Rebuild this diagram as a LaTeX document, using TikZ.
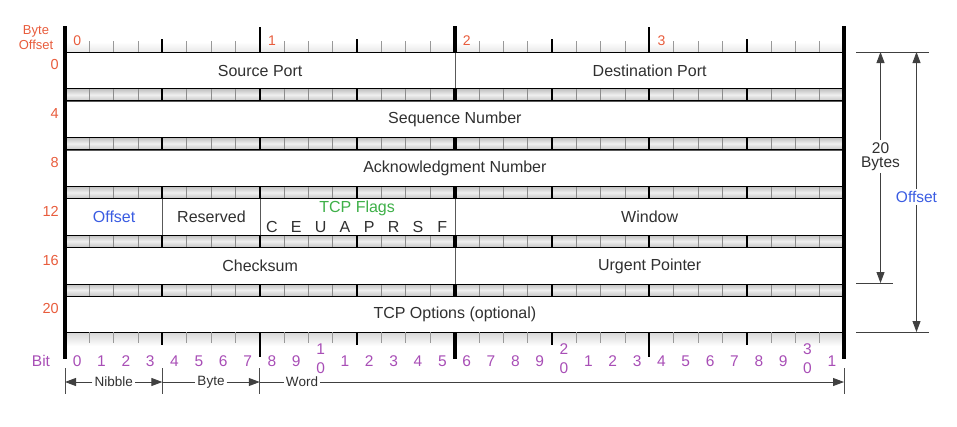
\documentclass[tikz,border=0pt]{standalone}
\usepackage{fontspec}
\setmainfont{Liberation Sans}
\usetikzlibrary{arrows.meta}
\definecolor{offred}{RGB}{232,92,60}
\definecolor{bitpurple}{RGB}{168,78,182}
\definecolor{flaggreen}{RGB}{62,176,72}
\definecolor{offblue}{RGB}{58,92,226}
\definecolor{txt}{RGB}{48,48,48}
\newcommand{\fs}[1]{\fontsize{#1}{#1}\selectfont}
\tikzset{
  field/.style={draw=black!65, line width=0.8pt, fill=white, inner sep=0pt,
    minimum height=36.8pt, anchor=north west, font=\fs{16}, text=txt},
  bitnum/.style={font=\fs{15.5}, text=bitpurple, inner sep=0pt, anchor=base},
  offnum/.style={font=\fs{14.5}, text=offred, inner sep=0pt, anchor=east},
  bytenum/.style={font=\fs{14}, text=offred, inner sep=0pt},
  minortick/.style={black!40, line width=0.7pt},
  nibtick/.style={black, line width=1.8pt},
  bytetick/.style={black, line width=2.3pt},
  midtick/.style={black, line width=4pt},
  edgetick/.style={black, line width=3.6pt},
  dimline/.style={black!75, line width=0.8pt},
  dimarrow/.style={black!75, line width=0.9pt, -{Triangle[length=11pt,width=8pt]}},
  dimlabel/.style={font=\fs{13.5}, text=txt, inner sep=2pt},
  sidelabel/.style={font=\fs{15.5}, inner sep=2pt, align=center},
  barshade/.style={top color=gray!50, bottom color=gray!45, middle color=gray!12}
}
\begin{document}
\begin{tikzpicture}[x=1pt,y=-1pt]
\useasboundingbox (0,0) rectangle (957,426);
\def\bw{24.34375}
% ---------- fields ----------
\node[field, minimum width=389.5pt] (src) at (65,52) {Source Port};
\node[field, minimum width=389.5pt] (dst) at (454.5,52) {Destination Port};
\node[field, minimum width=779pt] (seq) at (65,100.8) {Sequence Number};
\node[field, minimum width=779pt] (ack) at (65,149.6) {Acknowledgment Number};
\node[field, minimum width=97.375pt, text=offblue] (off) at (65,198.4) {Offset};
\node[field, minimum width=97.375pt] (res) at (162.375,198.4) {Reserved};
\node[field, minimum width=194.75pt] (flg) at (259.75,198.4) {};
\node[field, minimum width=389.5pt] (win) at (454.5,198.4) {Window};
\node[field, minimum width=389.5pt] (chk) at (65,247.2) {Checksum};
\node[field, minimum width=389.5pt] (urg) at (454.5,247.2) {Urgent Pointer};
\node[field, minimum width=779pt, minimum height=36pt] (opt) at (65,296) {TCP Options (optional)};
% flags
\node[font=\fs{16}, text=flaggreen, inner sep=0pt] (flgt) at (357.1,208) {TCP Flags};
\foreach \l [count=\k from 0] in {C,E,U,A,P,R,S,F}{
  \node[font=\fs{16}, text=txt, inner sep=0pt, anchor=base] (fl\k) at ({65+(8.5+\k)*\bw},232.3) {\l};
}
% ---------- separator bars ----------
\foreach \r in {0,...,4}{
  \pgfmathsetmacro\ya{52+\r*48.8+36.8}
  \pgfmathsetmacro\yb{\ya+12}
  \shade[barshade] (65,\ya) rectangle (844,\yb);
  \foreach \i in {1,2,3,5,6,7,9,10,11,13,14,15,17,18,19,21,22,23,25,26,27,29,30,31}{
    \draw[black!45, line width=0.7pt] ({65+\i*\bw},\ya) -- ({65+\i*\bw},\yb);
  }
  \foreach \i in {4,12,20,28}{
    \draw[nibtick] ({65+\i*\bw},\ya) -- ({65+\i*\bw},\yb);
  }
  \foreach \i in {8,24}{
    \draw[bytetick] ({65+\i*\bw},\ya) -- ({65+\i*\bw},\yb);
  }
  \draw[midtick] (454.5,\ya) -- (454.5,\yb);
  \draw[black, line width=1pt] (65,\ya) -- (844,\ya) (65,\yb) -- (844,\yb);
}
% ---------- top ruler ----------
\shade[top color=white, bottom color=gray!18] (65,42) rectangle (844,52);
\draw[black, line width=1pt] (65,52) -- (844,52);
\foreach \i in {1,2,3,5,6,7,9,10,11,13,14,15,17,18,19,21,22,23,25,26,27,29,30,31}{
  \draw[minortick] ({65+\i*\bw},41) -- ({65+\i*\bw},52);
}
\foreach \i in {4,12,20,28}{
  \draw[nibtick] ({65+\i*\bw},39) -- ({65+\i*\bw},52);
}
\foreach \i in {8,24}{
  \draw[bytetick] ({65+\i*\bw},27) -- ({65+\i*\bw},52);
}
\draw[midtick] (454.5,26) -- (454.5,52);
\foreach \n in {0,1,2,3}{
  \node[bytenum] (by\n) at ({65+(8*\n+0.5)*\bw},41) {\n};
}
% ---------- bottom ruler ----------
\shade[top color=gray!30, bottom color=white] (65,333) rectangle (844,346);
\draw[black, line width=1pt] (65,332) -- (844,332);
\foreach \i in {1,2,3,5,6,7,9,10,11,13,14,15,17,18,19,21,22,23,25,26,27,29,30,31}{
  \draw[minortick] ({65+\i*\bw},332) -- ({65+\i*\bw},343);
}
\foreach \i in {4,12,20,28}{
  \draw[nibtick] ({65+\i*\bw},332) -- ({65+\i*\bw},345);
}
\foreach \i in {8,24}{
  \draw[bytetick] ({65+\i*\bw},332) -- ({65+\i*\bw},357);
}
\draw[midtick] (454.5,332) -- (454.5,359);
% ---------- outer edges ----------
\draw[edgetick] (65,26) -- (65,359);
\draw[edgetick] (844,26) -- (844,359);
% ---------- bit numbers ----------
\node[bitnum] (bitlbl) at (41,366.5) {Bit};
\foreach \i in {0,...,31}{
  \pgfmathtruncatemacro\d{mod(\i,10)}
  \pgfmathtruncatemacro\t{\i/10}
  \ifnum\d=0 \ifnum\i>0
    \node[bitnum] (bt\i) at ({65+(\i+0.5)*\bw},354) {\t};
    \node[bitnum] (bo\i) at ({65+(\i+0.5)*\bw},373) {0};
  \else
    \node[bitnum] (bo\i) at ({65+(\i+0.5)*\bw},366.5) {\d};
  \fi
  \else
    \node[bitnum] (bo\i) at ({65+(\i+0.5)*\bw},366.5) {\d};
  \fi
}
% ---------- byte offsets (left) ----------
\node[font=\fs{13}, text=offred, inner sep=0pt] (bo1l) at (36,31) {Byte};
\node[font=\fs{13}, text=offred, inner sep=0pt] (bo2l) at (36,45) {Offset};
\foreach \v [count=\r from 0] in {0,4,8,12,16,20}{
  \node[offnum] (ofs\r) at (59,{65+\r*48.8}) {\v};
}
% ---------- Nibble / Byte / Word ----------
\foreach \x [count=\k] in {65,162.375,259.75,844}{
  \coordinate (wt\k) at (\x,382);
  \draw[black!70, line width=0.8pt] (\x,368) -- (\x,394);
}
\node[dimlabel] (nib) at (113.7,382) {Nibble};
\node[dimlabel] (byt) at (211,382) {Byte};
\node[dimlabel] (wrd) at (302,382) {Word};
\draw[dimarrow] (nib.west) -- (wt1);
\draw[dimarrow] (nib.east) -- (wt2);
\draw[dimline] (wt2) -- (byt.west);
\draw[dimarrow] (byt.east) -- (wt3);
\draw[dimline] (wt3) -- (wrd.west);
\draw[dimarrow] (wrd.east) -- (wt4);
% ---------- right dimension arrows ----------
\draw[dimline] (856,52) -- (929,52);
\draw[dimline] (856,283) -- (893,283);
\draw[dimline] (856,332) -- (929,332);
\coordinate (ta) at (880.5,52);
\coordinate (tb) at (880.5,283);
\coordinate (oa) at (916.5,52);
\coordinate (ob) at (916.5,332);
\node[sidelabel, text=txt] (twenty) at (880.5,156.5) {20\\[-1pt]Bytes};
\node[sidelabel, text=offblue] (offr) at (916.5,197) {Offset};
\draw[dimarrow] (twenty.north) -- (ta);
\draw[dimarrow] (twenty.south) -- (tb);
\draw[dimarrow] (offr.north) -- (oa);
\draw[dimarrow] (offr.south) -- (ob);
\end{tikzpicture}
\end{document}
